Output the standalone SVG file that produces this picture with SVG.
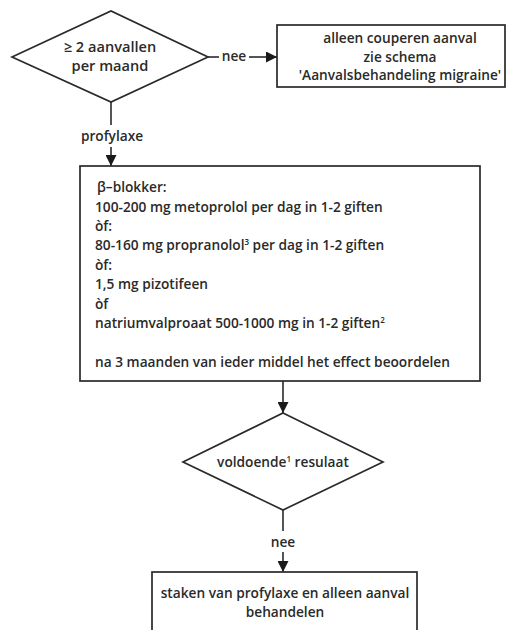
<svg xmlns="http://www.w3.org/2000/svg" width="507" height="630" viewBox="0 0 507 630">
<defs>
<style>
.sh{fill:#fff;stroke:#2a2a2a;stroke-width:1.7}
.ln{fill:none;stroke:#2a2a2a;stroke-width:1.6}
.t{font-family:"Open Sans","Liberation Sans",sans-serif;font-size:13.7px;font-weight:600;fill:#2a2a2a}
.c{text-anchor:middle}
.big{font-size:14.6px}
.sup{font-size:8px}
</style>
<marker id="ah" viewBox="0 0 10 10" refX="10" refY="5" markerWidth="11" markerHeight="11" markerUnits="userSpaceOnUse" orient="auto">
<path d="M0,0 L10,5 L0,10 Z" fill="#1a1a1a"/>
</marker>
</defs>
<rect width="507" height="630" fill="#fff"/>
<g id="connectors">
<line class="ln" x1="208" y1="57" x2="219" y2="57"/>
<line class="ln" x1="249" y1="57" x2="277" y2="57" marker-end="url(#ah)"/>
<line class="ln" x1="111" y1="102" x2="111" y2="125"/>
<line class="ln" x1="111" y1="147" x2="111" y2="166" marker-end="url(#ah)"/>
<line class="ln" x1="283" y1="381" x2="283" y2="413" marker-end="url(#ah)"/>
<line class="ln" x1="283" y1="510" x2="283" y2="531"/>
<line class="ln" x1="283" y1="552" x2="283" y2="572" marker-end="url(#ah)"/>
<text class="t c" x="234" y="61">nee</text>
<text class="t c" x="112" y="141">profylaxe</text>
<text class="t c" x="283" y="547">nee</text>
</g>
<g id="d1">
<polygon class="sh" points="12,57 111,11 208,57 111,102"/>
<text class="t c big" x="110" y="52">≥ 2 aanvallen</text>
<text class="t c big" x="110" y="71">per maand</text>
</g>
<g id="b2">
<rect class="sh" x="277" y="25" width="228" height="62"/>
<text class="t c" x="400" y="43">alleen couperen aanval</text>
<text class="t c" x="400" y="62">zie schema</text>
<text class="t c" x="400" y="80">'Aanvalsbehandeling migraine'</text>
</g>
<g id="b3">
<rect class="sh" x="80" y="166" width="400" height="215"/>
<text class="t" x="97" y="192">β–blokker:</text>
<text class="t" x="95" y="212">100-200 mg metoprolol per dag in 1-2 giften</text>
<text class="t" x="95" y="231">òf:</text>
<text class="t" x="95" y="250">80-160 mg propranolol<tspan class="sup" dy="-5">3</tspan><tspan dy="5"> per dag in 1-2 giften</tspan></text>
<text class="t" x="95" y="270">òf:</text>
<text class="t" x="95" y="289">1,5 mg pizotifeen</text>
<text class="t" x="95" y="309">òf</text>
<text class="t" x="95" y="328">natriumvalproaat 500-1000 mg in 1-2 giften<tspan class="sup" dy="-5">2</tspan></text>
<text class="t" x="95" y="367">na 3 maanden van ieder middel het effect beoordelen</text>
</g>
<g id="d2">
<polygon class="sh" points="283,413 383,462 283,510 183,462"/>
<text class="t c" x="283" y="467">voldoende<tspan class="sup" dy="-5">1</tspan><tspan dy="5"> resulaat</tspan></text>
</g>
<g id="b4">
<rect class="sh" x="152" y="572" width="265" height="70"/>
<text class="t c" x="285" y="598">staken van profylaxe en alleen aanval</text>
<text class="t c" x="285" y="617">behandelen</text>
</g>
</svg>
